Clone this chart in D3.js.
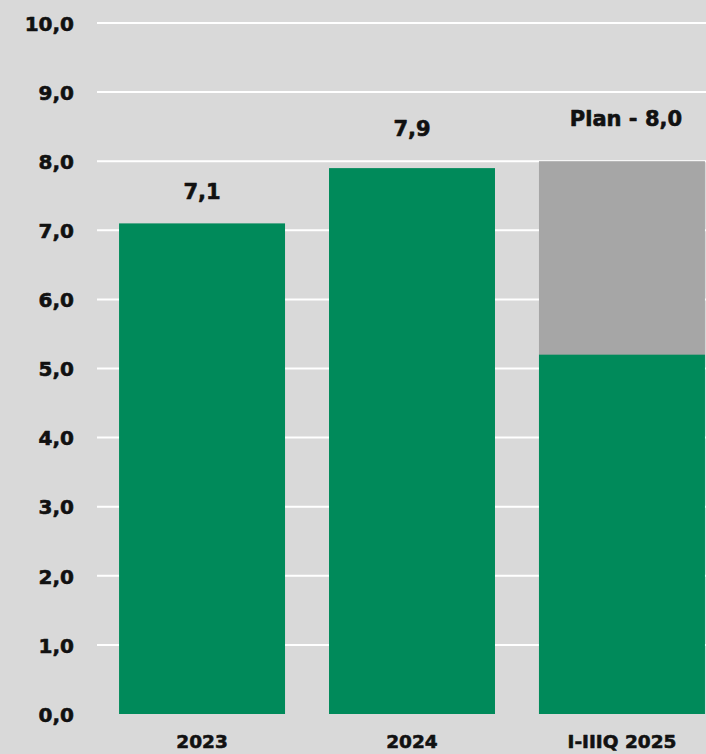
<!DOCTYPE html>
<html><head><meta charset="utf-8">
<script src="https://cdn.jsdelivr.net/npm/d3@7"></script>
<style>html,body{margin:0;padding:0;background:#d9d9d9;}svg{display:block;}</style>
</head><body>
<svg id="c" width="706" height="754"></svg>
<script>
const categories = ["2023", "2024", "I-IIIQ 2025"];
const actual = [7.1, 7.9, 5.2];
const plan = [null, null, 8.0];
const valueLabels = ["7,1", "7,9", "Plan - 8,0"];
const yTicks = [0,1,2,3,4,5,6,7,8,9,10];

const svg = d3.select("#c");
const W = 706, H = 754;
const font = "'DejaVu Sans', sans-serif";
const labelGap = [24, 32, 35];
const labelShift = [0, 0, 4];
svg.append("rect").attr("width", W).attr("height", H).attr("fill", "#d9d9d9");

const y = d3.scaleLinear().domain([0, 10]).range([714, 23]);
const x = d3.scaleBand().domain(categories).range([97, 727]).paddingInner(0.2095).paddingOuter(0.105);

function heavy(sel) {
  sel.attr("font-family", font).attr("font-weight", "bold").attr("fill", "#111")
    .attr("stroke", "#111").attr("stroke-width", 0.6).attr("stroke-linejoin", "round");
}

// gridlines
svg.append("g").selectAll("line").data(yTicks.filter(d => d > 0)).join("line")
  .attr("x1", 97).attr("x2", W)
  .attr("y1", d => y(d)).attr("y2", d => y(d))
  .attr("stroke", "#ffffff").attr("stroke-width", 2);

// y axis labels
const yAxis = d3.axisLeft(y).tickValues(yTicks).tickSize(0).tickPadding(0)
  .tickFormat(d => d3.format(".1f")(d).replace(".", ","));
const ga = svg.append("g").attr("transform", "translate(74,0)").call(yAxis);
ga.select(".domain").remove();
ga.selectAll("text").call(heavy).attr("font-size", 20).attr("dy", "0.36em");

// plan bars (grey)
svg.append("g").selectAll("rect").data(categories.map((c, i) => ({c, v: plan[i]})).filter(d => d.v != null)).join("rect")
  .attr("x", d => x(d.c)).attr("width", x.bandwidth())
  .attr("y", d => y(d.v)).attr("height", d => y(0) - y(d.v))
  .attr("fill", "#a6a6a6");

// actual bars (green)
svg.append("g").selectAll("rect").data(categories.map((c, i) => ({c, v: actual[i]}))).join("rect")
  .attr("x", d => x(d.c)).attr("width", x.bandwidth())
  .attr("y", d => y(d.v)).attr("height", d => y(0) - y(d.v))
  .attr("fill", "#008a5a");

// value labels
svg.append("g").selectAll("text").data(categories.map((c, i) => ({c, i, v: plan[i] != null ? plan[i] : actual[i], t: valueLabels[i]}))).join("text")
  .attr("x", d => x(d.c) + x.bandwidth() / 2 + labelShift[d.i])
  .attr("y", d => y(d.v) - labelGap[d.i])
  .attr("text-anchor", "middle")
  .call(heavy).attr("font-size", 21)
  .text(d => d.t);

// category labels
svg.append("g").selectAll("text").data(categories).join("text")
  .attr("x", d => x(d) + x.bandwidth() / 2).attr("y", 748)
  .attr("text-anchor", "middle")
  .call(heavy).attr("font-size", 18.5)
  .text(d => d);
</script>
</body></html>
